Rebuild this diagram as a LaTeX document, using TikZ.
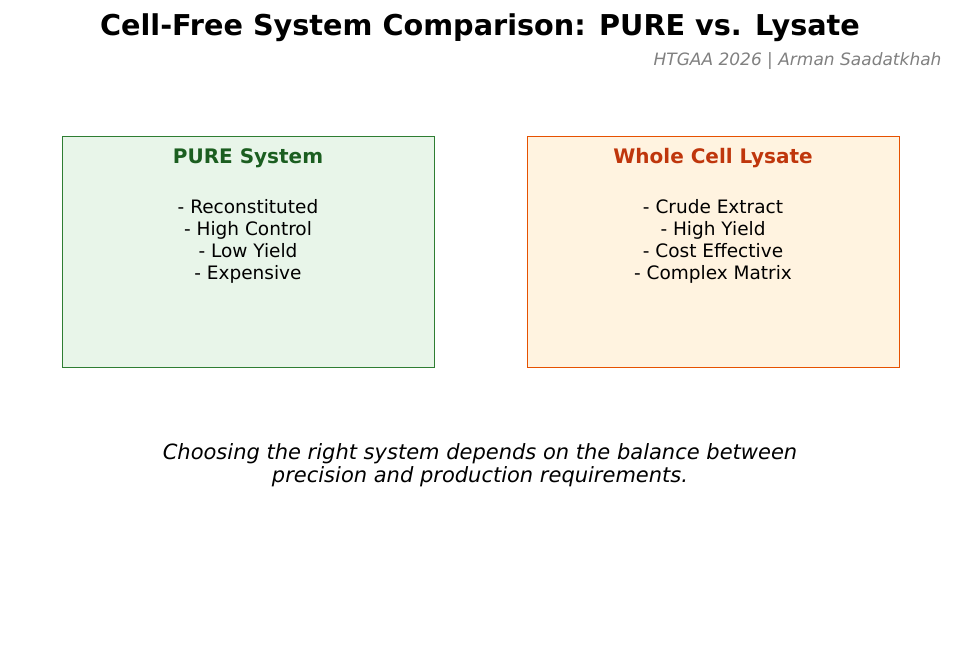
\documentclass[tikz,border=0pt]{standalone}
\usepackage{fontspec}
\setmainfont{DejaVu Sans}
\usetikzlibrary{positioning}
\definecolor{pureFill}{HTML}{E8F5E9}
\definecolor{pureLine}{HTML}{2E7D32}
\definecolor{pureText}{HTML}{1B5E20}
\definecolor{lysFill}{HTML}{FFF3E0}
\definecolor{lysLine}{HTML}{E65100}
\definecolor{lysText}{HTML}{BF360C}
\tikzset{
  sysbox/.style={draw, line width=1.4pt, minimum width=372pt, minimum height=231pt, anchor=north west},
  boxtitle/.style={font=\fontsize{20}{24}\selectfont\bfseries},
  boxlist/.style={font=\fontsize{18.5}{22}\selectfont, align=center}
}
\begin{document}
\begin{tikzpicture}[x=1pt,y=-1pt]
\useasboundingbox (0,0) rectangle (959,671);
% header
\node (title) at (480,28) {\fontsize{28.7}{32}\selectfont\bfseries Cell-Free System Comparison: PURE vs. Lysate};
\node[anchor=east, text=gray] (author) at (945,61) {\fontsize{17}{20}\selectfont\itshape HTGAA 2026 | Arman Saadatkhah};
% boxes
\node[sysbox, draw=pureLine, fill=pureFill] (pure) at (62,136) {};
\node[sysbox, draw=lysLine, fill=lysFill] (lysate) at (527,136) {};
\node[boxtitle, text=pureText] (pureT) at (248,158) {PURE System};
\node[boxtitle, text=lysText] (lysT) at (713,158) {Whole Cell Lysate};
\node[boxlist, anchor=north] (pureL) at (248,196) {- Reconstituted\\- High Control\\- Low Yield\\- Expensive};
\node[boxlist, anchor=north] (lysL) at (713,196) {- Crude Extract\\- High Yield\\- Cost Effective\\- Complex Matrix};
% conclusion
\node[align=center, font=\fontsize{21}{23}\selectfont\itshape] (note) at (480,465) {Choosing the right system depends on the balance between\\precision and production requirements.};
\end{tikzpicture}
\end{document}
